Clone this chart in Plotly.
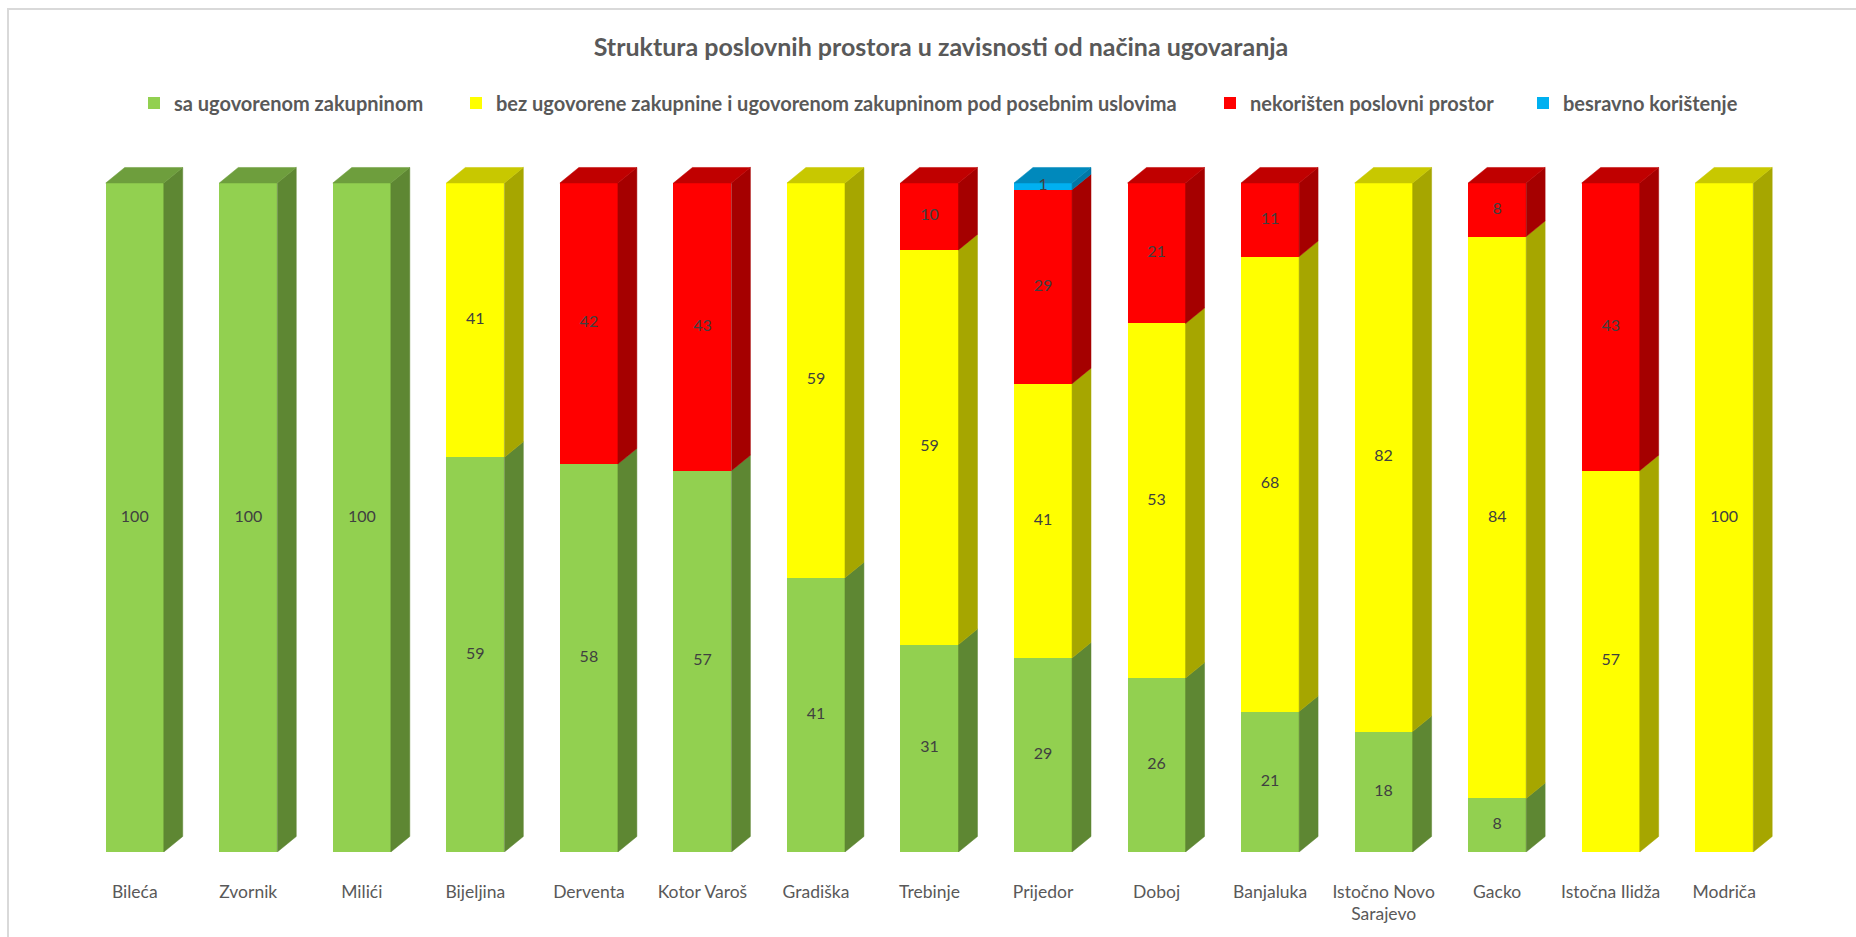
import plotly.graph_objects as go

# ---------------- data ----------------
categories = ["Bileća", "Zvornik", "Milići", "Bijeljina", "Derventa", "Kotor Varoš",
              "Gradiška", "Trebinje", "Prijedor", "Doboj", "Banjaluka",
              "Istočno Novo<br>Sarajevo", "Gacko", "Istočna Ilidža", "Modriča"]
sa_ugovorenom = [100, 100, 100, 59, 58, 57, 41, 31, 29, 26, 21, 18, 8, 0, 0]
bez_ugovorene = [0, 0, 0, 41, 0, 0, 59, 59, 41, 53, 68, 82, 84, 57, 100]
nekoristen = [0, 0, 0, 0, 42, 43, 0, 10, 29, 21, 11, 0, 8, 43, 0]
besplatno = [0, 0, 0, 0, 0, 0, 0, 0, 1, 0, 0, 0, 0, 0, 0]
series_names = ["sa ugovorenom zakupninom",
                "bez ugovorene zakupnine i ugovorenom zakupninom pod posebnim uslovima",
                "nekorišten poslovni prostor",
                "besravno korištenje"]
title_text = "Struktura poslovnih prostora u zavisnosti od načina ugovaranja"

# ---------------- style ----------------
front_colors = ["#92D050", "#FFFF00", "#FF0000", "#00B0F0"]
side_colors = ["#5E8733", "#A6A600", "#A50000", "#0077A6"]
top_colors = ["#6E9E3D", "#C8C800", "#C00000", "#0089BC"]
legend_text_left = [174, 496, 1250, 1563]   # px where legend text starts
BAR_W = 0.511
DX = 0.167
DY = 2.32
FONT = "Lato, 'Open Sans', sans-serif"
W, H = 1856, 937
ML, MR, MT, MB = 78, 75, 140, 85
PW, PH = W - ML - MR, H - MT - MB
PX_PER_UNIT = 6.69

series = [sa_ugovorenom, bez_ugovorene, nekoristen, besplatno]
xs = list(range(len(categories)))
hw = BAR_W / 2
legend_ids = ["legend", "legend2", "legend3", "legend4"]

fig = go.Figure()

# front faces
for s, vals in enumerate(series):
    fig.add_trace(go.Bar(
        x=xs, y=vals, name=series_names[s], width=BAR_W,
        marker=dict(color=front_colors[s], line=dict(width=0)),
        hoverinfo="skip", showlegend=True, legend=legend_ids[s]))

# side and top faces, computed from the stacked values
cum = [0] * len(xs)
top_series = [None] * len(xs)
side_x = [[] for _ in series]
side_y = [[] for _ in series]
lab_x, lab_y, lab_t = [], [], []
for s, vals in enumerate(series):
    for i, v in enumerate(vals):
        if v <= 0:
            continue
        b = cum[i]
        t = b + v
        xr = i + hw
        side_x[s] += [xr, xr + DX, xr + DX, xr, xr, None]
        side_y[s] += [b, b + DY, t + DY, t, b, None]
        lab_x.append(i)
        lab_y.append(b + v / 2)
        lab_t.append(str(v))
        cum[i] = t
        top_series[i] = s

for s in range(len(series)):
    if side_x[s]:
        fig.add_trace(go.Scatter(
            x=side_x[s], y=side_y[s], mode="lines", fill="toself",
            fillcolor=side_colors[s], line=dict(color=side_colors[s], width=0.5),
            hoverinfo="skip", showlegend=False))
    tx, ty = [], []
    for i in xs:
        if top_series[i] == s:
            t = cum[i]
            tx += [i - hw, i - hw + DX, i + hw + DX, i + hw, i - hw, None]
            ty += [t, t + DY, t + DY, t, t, None]
    if tx:
        fig.add_trace(go.Scatter(
            x=tx, y=ty, mode="lines", fill="toself",
            fillcolor=top_colors[s], line=dict(color=top_colors[s], width=0.5),
            hoverinfo="skip", showlegend=False))

# data labels
fig.add_trace(go.Scatter(
    x=lab_x, y=lab_y, text=lab_t, mode="text",
    textfont=dict(family=FONT, size=16, color="#404040"),
    hoverinfo="skip", showlegend=False))

legend_font = dict(family=FONT, size=20, color="#595959", weight="bold")
legends = {}
for s, lid in enumerate(legend_ids):
    legends[lid] = dict(orientation="h", x=(legend_text_left[s] - 40) / W, xref="container",
                        xanchor="left", y=1 - 103 / H, yref="container", yanchor="middle",
                        font=legend_font, bgcolor="rgba(0,0,0,0)",
                        itemclick=False, itemdoubleclick=False)

fig.update_layout(
    width=W, height=H,
    margin=dict(l=ML, r=MR, t=MT, b=MB),
    paper_bgcolor="white", plot_bgcolor="white",
    barmode="stack", bargap=0,
    title=dict(text="<b>" + title_text + "</b>", x=941 / W, xref="container",
               xanchor="center", y=1 - 47 / H, yref="container", yanchor="middle",
               font=dict(family=FONT, size=25, color="#595959")),
    xaxis=dict(range=[-0.5, 14.5], tickvals=xs, ticktext=categories,
               showgrid=False, zeroline=False, showline=False, ticks="",
               ticklabelstandoff=27,
               tickfont=dict(family=FONT, size=17.5, color="#595959")),
    yaxis=dict(range=[0, PH / PX_PER_UNIT], visible=False, showgrid=False, zeroline=False),
    shapes=[dict(type="rect", xref="paper", yref="paper",
                 x0=(8 - ML) / PW, x1=(W + 40 - ML) / PW,
                 y0=(H - MB - (H + 40)) / PH, y1=(H - MB - 9) / PH,
                 line=dict(color="#D9D9D9", width=2), layer="below")],
    **legends,
)

fig.write_html("out.html")
